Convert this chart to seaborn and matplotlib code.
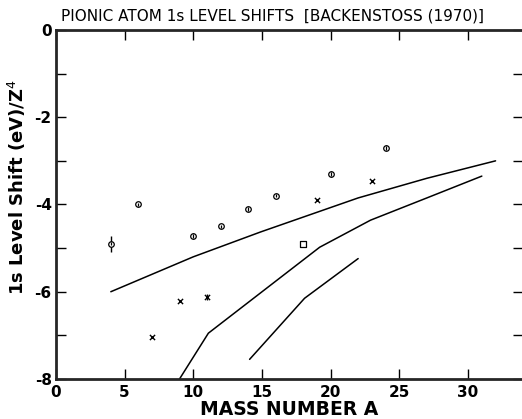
import pandas as pd
import matplotlib
matplotlib.use('Agg')
import matplotlib.pyplot as plt
import seaborn as sns

circle_A = [4, 6, 10, 12, 14, 16, 20, 24]
circle_shift = [-4.9, -4.0, -4.72, -4.5, -4.1, -3.8, -3.3, -2.7]
circle_err = [0.18, 0.05, 0.07, 0.05, 0.05, 0.05, 0.06, 0.06]

cross_A = [7, 9, 11, 19, 23]
cross_shift = [-7.04, -6.22, -6.12, -3.9, -3.47]
cross_err = [0.0, 0.0, 0.07, 0.0, 0.0]

square_A = [18]
square_shift = [-4.9]

# Theory curves
curve1_A = [4, 10, 14.9, 22, 27, 32]
curve1_shift = [-6.0, -5.2, -4.63, -3.85, -3.4, -3.0]
curve2_A = [9, 11.1, 19.2, 22.9, 27, 31]
curve2_shift = [-8.0, -6.95, -4.98, -4.36, -3.85, -3.35]
curve3_A = [14.1, 18.1, 22]
curve3_shift = [-7.55, -6.15, -5.24]

sns.set_style('ticks')
plt.rcParams['font.family'] = ['DejaVu Sans']
plt.rcParams['text.color'] = 'black'
plt.rcParams['axes.labelcolor'] = 'black'
plt.rcParams['xtick.color'] = 'black'
plt.rcParams['ytick.color'] = 'black'

fig = plt.figure(figsize=(5.22, 4.19), dpi=100)
ax = fig.add_axes([0.107, 0.0955, 0.895, 0.833])

for xs, ys in [(curve1_A, curve1_shift), (curve2_A, curve2_shift), (curve3_A, curve3_shift)]:
    df = pd.DataFrame({'A': xs, 'shift': ys})
    sns.lineplot(data=df, x='A', y='shift', ax=ax, color='black', lw=1.1, sort=False)

ax.errorbar(circle_A, circle_shift, yerr=circle_err, fmt='none', ecolor='black', elinewidth=1.0)
sns.scatterplot(x=circle_A, y=circle_shift, ax=ax, marker='o', s=16,
                facecolor='white', edgecolor='black', linewidth=0.9, zorder=3)
ax.vlines(circle_A, [y - 0.04 for y in circle_shift], [y + 0.04 for y in circle_shift],
          color='black', lw=0.9, zorder=4)
ax.errorbar(cross_A, cross_shift, yerr=cross_err, fmt='none', ecolor='black', elinewidth=1.0)
sns.scatterplot(x=cross_A, y=cross_shift, ax=ax, marker='x', s=14,
                color='black', linewidth=1.0, zorder=3)
sns.scatterplot(x=square_A, y=square_shift, ax=ax, marker='s', s=20,
                facecolor='white', edgecolor='black', linewidth=0.9, zorder=3)

ax.set_xlim(0, 34)
ax.set_ylim(-8, 0)
ax.set_xticks([0, 5, 10, 15, 20, 25, 30])
ax.set_yticks([0, -2, -4, -6, -8])
ax.set_yticks([-1, -3, -5, -7], minor=True)
ax.set_yticklabels(['0', '-2', '-4', '-6', '-8'])
ax.tick_params(which='both', direction='in', top=True, right=True, length=7, width=1.0,
               labelsize=11, pad=4)
ax.tick_params(axis='y', which='both', pad=3)
for lab in ax.get_xticklabels() + ax.get_yticklabels():
    lab.set_fontweight('bold')
for side in ['left', 'bottom', 'top']:
    ax.spines[side].set_linewidth(2.0)
ax.spines['right'].set_visible(False)

ax.set_xlabel('MASS NUMBER A', fontsize=13.5, fontweight='bold', labelpad=0)
ax.set_ylabel('1s Level Shift (eV)/Z$^4$', fontsize=13, fontweight='bold')
ax.yaxis.set_label_coords(-0.06, 0.55)
ax.set_title('PIONIC ATOM 1s LEVEL SHIFTS  [BACKENSTOSS (1970)]', fontsize=11,
             loc='left', x=0.01, pad=7)

fig.savefig('out.png', dpi=100)
